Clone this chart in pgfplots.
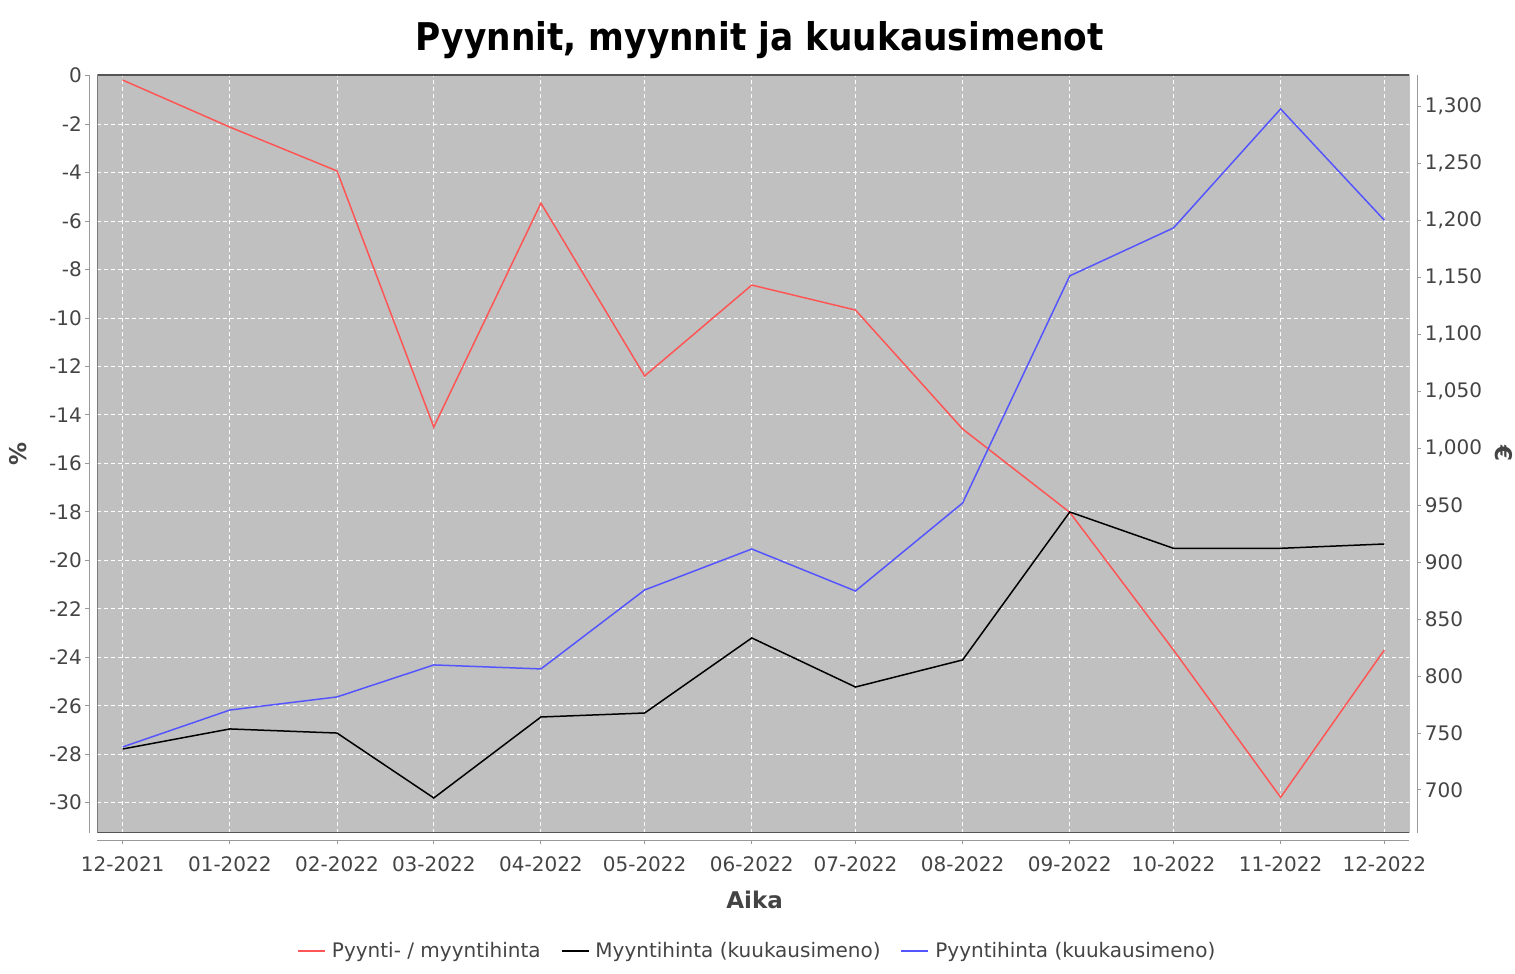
\documentclass[border=0pt]{standalone}
\usepackage{fontspec}
\setmainfont{DejaVu Sans}
\newfontfamily\condfont[FakeStretch=0.9]{DejaVu Sans}
\usepackage{pgfplots}
\pgfplotsset{compat=1.18}
\definecolor{bg}{HTML}{C0C0C0}
\definecolor{txt}{HTML}{444444}
\definecolor{axg}{HTML}{999999}
\definecolor{frm}{HTML}{555555}
\definecolor{sred}{HTML}{FF5555}
\definecolor{sblue}{HTML}{5555FF}
\pgfplotsset{
  base/.style={
    scale only axis, width=1312pt, height=757.7pt,
    at={(97.3pt,141.3pt)}, anchor=south west,
    xmin=-7.35, xmax=372.23,
    /pgf/number format/assume math mode=true,
    tick label style={font=\fontsize{20}{24}\selectfont, text=txt},
    tick align=outside, major tick length=4pt,
    every tick/.style={axg, line width=1pt},
    clip=true,
  }
}
\begin{document}
\begin{tikzpicture}
\path[use as bounding box] (0,0) rectangle (1515pt,974pt);
\begin{axis}[base,
  ymin=-31.24, ymax=0.03,
  axis background/.style={fill=bg},
  axis x line*=bottom, axis y line*=left,
  x axis line style={-, axg, line width=1pt, yshift=-7.5pt},
  xtick style={yshift=-7.5pt},
  xticklabel style={yshift=-16pt},
  y axis line style={-, axg, line width=1pt},
  axis y line shift=8pt,
  xtick={0,31,62,90,121,151,182,212,243,274,304,335,365},
  xticklabels={12-2021,01-2022,02-2022,03-2022,04-2022,05-2022,06-2022,07-2022,08-2022,09-2022,10-2022,11-2022,12-2022},
  ytick={-30,-28,...,0},
  xmajorgrids, ymajorgrids,
  major grid style={white, dash pattern=on 4pt off 3pt, line width=1pt},
  title={Pyynnit, myynnit ja kuukausimenot},
  title style={at={(axis description cs:0.505,1.025)}, anchor=base, font=\condfont\bfseries\fontsize{38.2}{40}\selectfont, text=black},
  xlabel={Aika}, ylabel={\%},
  every axis x label/.style={at={(axis description cs:0.501,-0.0994)}, anchor=base, font=\bfseries\fontsize{23}{26}\selectfont, text=txt},
  every axis y label/.style={at={(axis description cs:-0.0602,0.5)}, anchor=center, rotate=90, font=\bfseries\fontsize{23}{26}\selectfont, text=txt},
]
\addplot[sred, line width=1.5pt] coordinates {
(0,-0.18) (31,-2.12) (62,-3.93) (90,-14.5) (121,-5.26) (151,-12.39) (182,-8.64)
(212,-9.67) (243,-14.58) (274,-18.02) (304,-23.7) (335,-29.78) (365,-23.7)};
\end{axis}
\begin{axis}[base,
  ymin=662.5, ymax=1327.8,
  axis x line=none, axis y line*=right,
  y axis line style={-, axg, line width=1pt},
  axis y line shift=8pt,
  ytick={700,750,...,1300},
  ylabel={€},
  every axis y label/.style={at={(axis description cs:1.0724,0.5)}, anchor=center, rotate=-90, font=\bfseries\fontsize{23}{26}\selectfont, text=txt},
  legend style={at={(axis description cs:0.503,-0.156)}, anchor=center, draw=none, fill=none,
    font=\fontsize{20}{24}\selectfont, text=txt,
    /tikz/every odd column/.append style={column sep=4pt},
    /tikz/every even column/.append style={column sep=18pt}},
  legend columns=-1,
  legend image code/.code={\draw[#1, line width=1.8pt] (0pt,0pt) -- (27pt,0pt);},
]
\addlegendimage{sred, line width=1.5pt}
\addlegendentry{Pyynti- / myyntihinta}
\addplot[black, line width=1.5pt] coordinates {
(0,736) (31,753.6) (62,750) (90,693) (121,764.1) (151,767.6) (182,833.5)
(212,790.4) (243,814.2) (274,944.1) (304,912.2) (335,912.2) (365,916)};
\addlegendentry{Myyntihinta (kuukausimeno)}
\addplot[sblue, line width=1.5pt] coordinates {
(0,737.8) (31,770.2) (62,781.7) (90,809.8) (121,806.3) (151,875.6) (182,911.6)
(212,874.7) (243,952) (274,1151.4) (304,1193.5) (335,1298) (365,1200.3)};
\addlegendentry{Pyyntihinta (kuukausimeno)}
\draw[frm, line width=1.5pt] (rel axis cs:0,0) rectangle (rel axis cs:1,1);
\end{axis}
\end{tikzpicture}
\end{document}
